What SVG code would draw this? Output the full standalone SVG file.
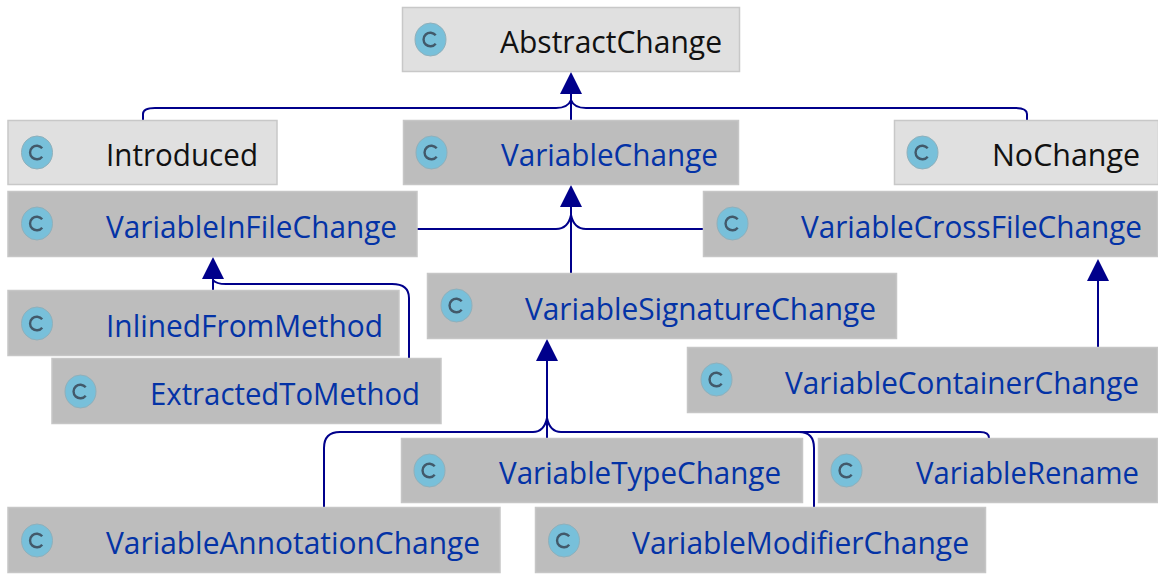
<svg xmlns="http://www.w3.org/2000/svg" width="1158" height="575" viewBox="0 0 1158 575">
<style>
.box{stroke-width:1.5}
.p{fill:#e0e0e0;stroke:#c8c8c8}
.d{fill:#bdbdbd;stroke:#c6c6c6}
.i{fill:#78c0da;stroke:#8fb0bb;stroke-width:1}
.c{fill:none;stroke:#42596a;stroke-width:2.4}
text{font-family:"Open Sans","Noto Sans","Liberation Sans",sans-serif;font-size:31px}
.tb{fill:#111}
.tl{fill:#0433a6}
.e{fill:none;stroke:#00008b;stroke-width:2}
.h{fill:#00008b}
</style>
<defs>
<g id="ic"><ellipse class="i" cx="0" cy="0" rx="15.500" ry="16.500"/><path class="c" d="M5.200-4.200A6.800 6.800 0 1 0 5.200 4.200"/></g>
</defs>
<g id="connectors">
<path class="e" d="M571 120V92"/>
<path class="e" d="M143 120V114Q143 108 155 108H556Q568 108 571 100Q574 108 586 108H1015Q1027 108 1027 114V120"/>
<path class="e" d="M571 273V205"/>
<path class="e" d="M417 229H556Q568 229 571 215Q574 229 586 229H703"/>
<path class="e" d="M213 290V278"/>
<path class="e" d="M409 358V298Q409 284 392 284H226Q216 284 213 280"/>
<path class="e" d="M1098 347V280"/>
<path class="e" d="M547 438V360"/>
<path class="e" d="M324 507V448Q324 432 340 432H533Q544 432 547 418Q550 432 561 432H799Q814 432 814 448V507"/>
<path class="e" d="M561 432H980Q989 432 989 438"/>
<polygon class="h" points="571,72 560,94 582,94"/>
<polygon class="h" points="571,185 560,207 582,207"/>
<polygon class="h" points="213,257 202,279 224,279"/>
<polygon class="h" points="1098,259 1087,281 1109,281"/>
<polygon class="h" points="547,339 536,361 558,361"/>
</g>
<g id="AbstractChange"><rect class="box p" x="402.500" y="7.500" width="337" height="64"/><use href="#ic" x="430.500" y="39.500"/><text class="tb" x="500" y="52.500" textLength="222" lengthAdjust="spacingAndGlyphs">AbstractChange</text></g>
<g id="Introduced"><rect class="box p" x="8" y="120.500" width="269" height="64"/><use href="#ic" x="37" y="152.500"/><text class="tb" x="106" y="165.500" textLength="152" lengthAdjust="spacingAndGlyphs">Introduced</text></g>
<g id="VariableChange"><rect class="box d" x="403.500" y="120.500" width="335" height="64"/><use href="#ic" x="431.500" y="152.500"/><text class="tl" x="501" y="165.500" textLength="217" lengthAdjust="spacingAndGlyphs">VariableChange</text></g>
<g id="NoChange"><rect class="box p" x="894.500" y="120.500" width="264" height="64"/><use href="#ic" x="922.500" y="152.500"/><text class="tb" x="992" y="165.500" textLength="148" lengthAdjust="spacingAndGlyphs">NoChange</text></g>
<g id="VariableInFileChange"><rect class="box d" x="8" y="191.500" width="409" height="65"/><use href="#ic" x="37" y="223.500"/><text class="tl" x="106" y="237.500" textLength="291" lengthAdjust="spacingAndGlyphs">VariableInFileChange</text></g>
<g id="VariableCrossFileChange"><rect class="box d" x="703.500" y="191.500" width="454" height="65"/><use href="#ic" x="732.500" y="223.500"/><text class="tl" x="801" y="237.500" textLength="341" lengthAdjust="spacingAndGlyphs">VariableCrossFileChange</text></g>
<g id="VariableSignatureChange"><rect class="box d" x="427.500" y="273.500" width="469" height="65"/><use href="#ic" x="456.500" y="305.500"/><text class="tl" x="525" y="319.500" textLength="351" lengthAdjust="spacingAndGlyphs">VariableSignatureChange</text></g>
<g id="InlinedFromMethod"><rect class="box d" x="8" y="290.500" width="391" height="65"/><use href="#ic" x="37" y="323.500"/><text class="tl" x="106" y="336.500" textLength="277" lengthAdjust="spacingAndGlyphs">InlinedFromMethod</text></g>
<g id="ExtractedToMethod"><rect class="box d" x="52" y="358.500" width="389" height="65"/><use href="#ic" x="80.500" y="391.500"/><text class="tl" x="150" y="404.500" textLength="270" lengthAdjust="spacingAndGlyphs">ExtractedToMethod</text></g>
<g id="VariableContainerChange"><rect class="box d" x="687.500" y="347.500" width="470" height="65"/><use href="#ic" x="716.500" y="379.500"/><text class="tl" x="785" y="393.500" textLength="354" lengthAdjust="spacingAndGlyphs">VariableContainerChange</text></g>
<g id="VariableTypeChange"><rect class="box d" x="401.500" y="438.500" width="401" height="64"/><use href="#ic" x="429.500" y="470.500"/><text class="tl" x="499" y="483.500" textLength="282" lengthAdjust="spacingAndGlyphs">VariableTypeChange</text></g>
<g id="VariableRename"><rect class="box d" x="818.500" y="438.500" width="339" height="64"/><use href="#ic" x="846.500" y="470.500"/><text class="tl" x="916" y="483.500" textLength="223" lengthAdjust="spacingAndGlyphs">VariableRename</text></g>
<g id="VariableAnnotationChange"><rect class="box d" x="8" y="507.500" width="492" height="65"/><use href="#ic" x="37" y="540.500"/><text class="tl" x="106" y="553.500" textLength="374" lengthAdjust="spacingAndGlyphs">VariableAnnotationChange</text></g>
<g id="VariableModifierChange"><rect class="box d" x="535.500" y="507.500" width="450" height="65"/><use href="#ic" x="564" y="540.500"/><text class="tl" x="632" y="553.500" textLength="337" lengthAdjust="spacingAndGlyphs">VariableModifierChange</text></g>
</svg>
